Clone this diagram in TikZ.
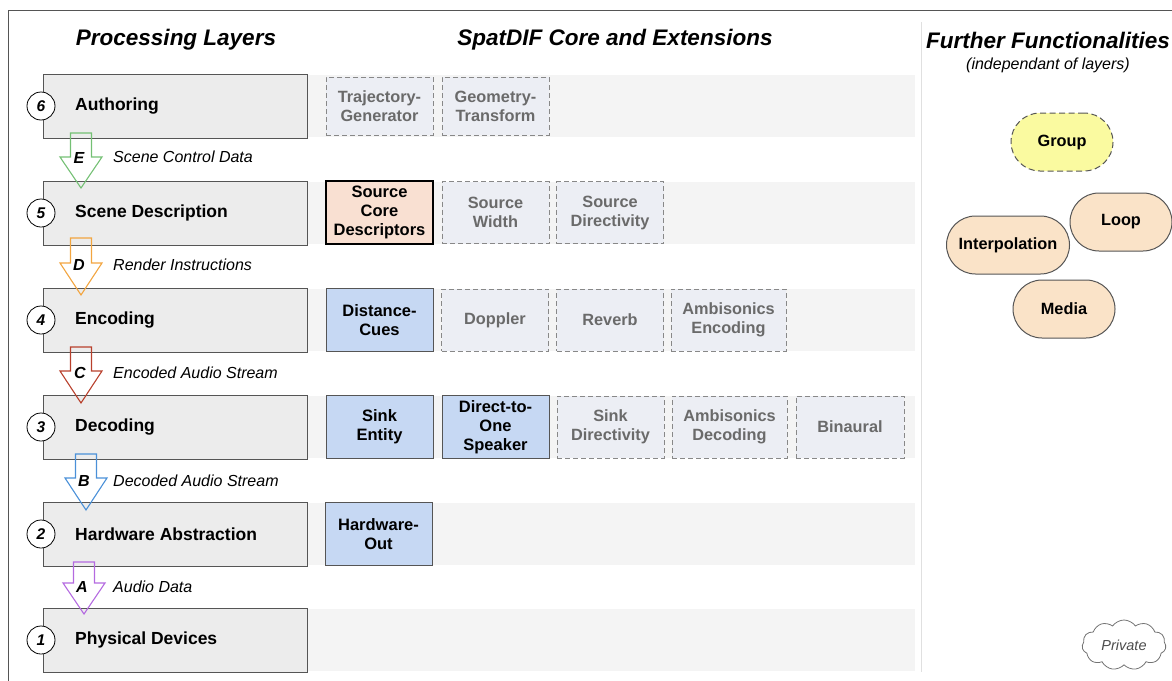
\documentclass[tikz,border=0pt]{standalone}
\usepackage{fontspec}
\setmainfont{Liberation Sans}
\usetikzlibrary{shapes.symbols,calc}
\definecolor{layerfill}{HTML}{ECECEC}
\definecolor{bandfill}{HTML}{F4F4F4}
\definecolor{extfill}{HTML}{ECEEF4}
\definecolor{exttext}{HTML}{6A6A6A}
\definecolor{corefill}{HTML}{C6D8F3}
\definecolor{srcfill}{HTML}{F9E0D2}
\definecolor{funcfill}{HTML}{FAE3C8}
\definecolor{groupfill}{HTML}{FAFAA0}
\definecolor{edgegray}{HTML}{555555}
\definecolor{arE}{HTML}{74C074}
\definecolor{arD}{HTML}{F2A540}
\definecolor{arC}{HTML}{B8402C}
\definecolor{arB}{HTML}{4A90D8}
\definecolor{arA}{HTML}{B46AE0}
\tikzset{
  layerbox/.style={draw=edgegray, fill=layerfill, line width=0.9pt, minimum width=264pt, minimum height=64pt, inner sep=0pt},
  layerlabel/.style={anchor=west, font=\fontsize{17.5}{20}\selectfont\bfseries, inner sep=0pt},
  numcirc/.style={circle, draw=black, fill=white, line width=0.8pt, minimum size=28pt, inner sep=0pt, font=\fontsize{15.5}{17}\selectfont\bfseries\itshape},
  band/.style={fill=bandfill, draw=none},
  extbox/.style={draw=exttext!80, dashed, dash pattern=on 5pt off 3pt, fill=extfill, line width=0.8pt, minimum width=107pt, minimum height=62pt, align=center, text=exttext, font=\fontsize{16.3}{19}\selectfont\bfseries, inner sep=0pt},
  corebox/.style={draw=edgegray, fill=corefill, line width=1pt, minimum width=107pt, minimum height=63pt, align=center, font=\fontsize{16.5}{19}\selectfont\bfseries, inner sep=0pt},
  srcbox/.style={corebox, draw=black, line width=1.3pt, fill=srcfill},
  heading/.style={font=\fontsize{22.5}{26}\selectfont\bfseries\itshape, inner sep=0pt},
  flowlabel/.style={anchor=west, font=\fontsize{16}{18}\selectfont\itshape, inner sep=0pt},
  flowletter/.style={font=\fontsize{16}{18}\selectfont\bfseries\itshape, inner sep=0pt},
  func/.style={draw=edgegray, fill=funcfill, line width=1pt, rounded corners=29pt, minimum width=102pt, minimum height=58pt, font=\fontsize{16.3}{19}\selectfont\bfseries, inner sep=0pt},
  blockarrow/.style={line width=1.1pt, line join=miter}
}
% #1 center x, #2 top, #3 head base, #4 tip, #5 colour
\newcommand{\blockarr}[5]{%
  \draw[blockarrow, draw=#5] (#1-10.5,#2) -- (#1+10.5,#2) -- (#1+10.5,#3) -- (#1+21,#3) -- (#1,#4) -- (#1-21,#3) -- (#1-10.5,#3) -- cycle;}
\begin{document}
\begin{tikzpicture}[x=1pt,y=-1pt]
\useasboundingbox (0,0) rectangle (1172,680);
% frame
\draw[line width=1pt, draw=edgegray] (1180,10) -- (8,10) -- (8,690);
\draw[line width=1pt, draw=black!12] (921,22) -- (921,672);
% headings
\node[heading] (hProc) at (176,40) {Processing Layers};
\node[heading] (hCore) at (615,40) {SpatDIF Core and Extensions};
\node[heading] (hFunc) at (1048,40) {Further Functionalities};
\node[font=\fontsize{16}{18}\selectfont\itshape, inner sep=0pt] (hSub) at (1048,65) {(independant of layers)};
% bands
\foreach \y in {106,213,320,427,534,640} {
  \fill[band] (307,\y-31) rectangle (915,\y+31);
}
% layer boxes
\node[layerbox] (L6) at (175,106) {};
\node[layerbox] (L5) at (175,213) {};
\node[layerbox] (L4) at (175,320) {};
\node[layerbox] (L3) at (175,427) {};
\node[layerbox] (L2) at (175,534) {};
\node[layerbox] (L1) at (175,640) {};
\node[layerlabel] (T6) at (75,106) {Authoring};
\node[layerlabel] (T5) at (75,213) {Scene Description};
\node[layerlabel] (T4) at (75,320) {Encoding};
\node[layerlabel] (T3) at (75,427) {Decoding};
\node[layerlabel] (T2) at (75,534) {Hardware Abstraction};
\node[layerlabel] (T1) at (75,640) {Physical Devices};
\node[numcirc] (N6) at (41,106) {6};
\node[numcirc] (N5) at (41,213) {5};
\node[numcirc] (N4) at (41,320) {4};
\node[numcirc] (N3) at (41,427) {3};
\node[numcirc] (N2) at (41,534) {2};
\node[numcirc] (N1) at (41,640) {1};
% flow arrows
\blockarr{81}{133}{157}{188}{arE}
\blockarr{81}{238}{263}{295}{arD}
\blockarr{81}{347}{371}{403}{arC}
\blockarr{86}{454}{478}{510}{arB}
\blockarr{84}{562}{583}{614}{arA}
\node[flowletter] (FE) at (79,158) {E};
\node[flowletter] (FD) at (79,265) {D};
\node[flowletter] (FC) at (80,373) {C};
\node[flowletter] (FB) at (84,481) {B};
\node[flowletter] (FA) at (82,587) {A};
\node[flowlabel] (LE) at (113,157) {Scene Control Data};
\node[flowlabel] (LD) at (113,265) {Render Instructions};
\node[flowlabel] (LC) at (113,373) {Encoded Audio Stream};
\node[flowlabel] (LB) at (113,481) {Decoded Audio Stream};
\node[flowlabel] (LA) at (113,587) {Audio Data};
% extensions row 6
\node[extbox, minimum height=58pt] (traj) at (379.5,106) {Trajectory-\\Generator};
\node[extbox, minimum height=58pt] (geom) at (495.5,106) {Geometry-\\Transform};
% row 5
\node[srcbox] (src) at (379.5,212.5) {Source\\Core\\Descriptors};
\node[extbox] (swidth) at (495.5,212.5) {Source\\Width};
\node[extbox] (sdir) at (610,212.5) {Source\\Directivity};
% row 4
\node[corebox] (dist) at (379.5,320) {Distance-\\Cues};
\node[extbox] (dopp) at (495,320) {Doppler};
\node[extbox] (rev) at (610,320) {Reverb};
\node[extbox, minimum width=115pt] (ambE) at (728.5,320) {Ambisonics\\Encoding};
% row 3
\node[corebox] (sink) at (379.5,427) {Sink\\Entity};
\node[corebox] (d2o) at (495.5,427) {Direct-to-\\One\\Speaker};
\node[extbox] (sinkdir) at (610.5,427) {Sink\\Directivity};
\node[extbox, minimum width=115pt] (ambD) at (729.5,427) {Ambisonics\\Decoding};
\node[extbox, minimum width=108pt] (bin) at (850,427) {Binaural};
% row 2
\node[corebox] (hwout) at (378.5,534) {Hardware-\\Out};
% further functionalities
\node[func, fill=groupfill, dashed, dash pattern=on 6pt off 3.5pt] (group) at (1062,142) {Group};
\node[func, minimum width=123pt] (interp) at (1008,245) {Interpolation};
\node[func] (loop) at (1121,222) {Loop};
\node[func] (media) at (1064,309) {Media};
\node[cloud, cloud puffs=11, cloud puff arc=110, aspect=1.6, draw=black!55, line width=0.8pt, minimum width=84pt, minimum height=50pt, inner sep=0pt, text=black!70, font=\fontsize{14.5}{17}\selectfont\itshape] (priv) at (1124,645) {Private};
\end{tikzpicture}
\end{document}
